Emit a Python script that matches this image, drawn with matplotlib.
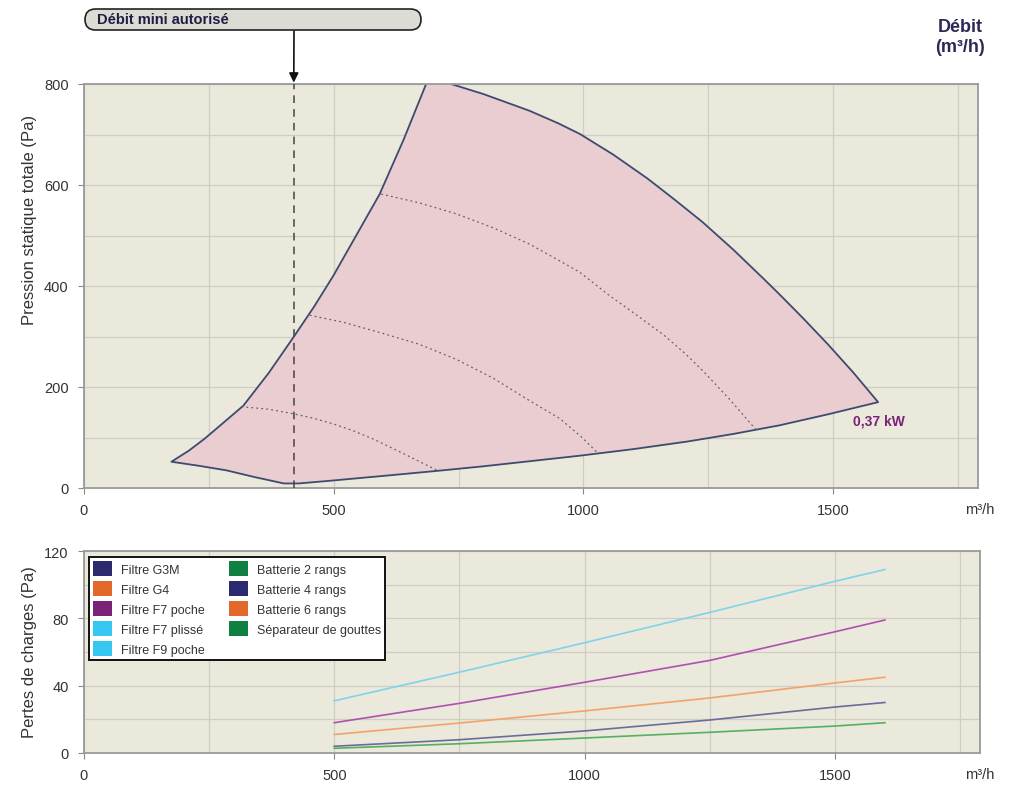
import matplotlib
matplotlib.use("Agg")
import matplotlib.pyplot as plt
from matplotlib.patches import FancyBboxPatch, Patch

plt.rcParams['font.family'] = ['Liberation Sans', 'DejaVu Sans']

# --- zone de fonctionnement (debit m3/h, pression Pa) ---
# bord gauche, bord haut/droit, puis bord bas
env_q = [175, 210, 242, 280, 319, 370, 419, 460, 499, 545, 592, 640, 685, 700, 730,
         735, 800, 892, 950, 993, 1060, 1128, 1180, 1238, 1300, 1359, 1392, 1440, 1490, 1540, 1590,
         1490, 1392, 1300, 1208, 1100, 993, 892, 800, 708, 600, 500, 430, 400, 340, 285, 230]
env_p = [52, 74, 98, 130, 163, 228, 298, 358, 420, 500, 582, 690, 800, 840, 840,
         800, 780, 747, 722, 701, 660, 613, 573, 527, 472, 416, 384, 336, 284, 229, 170,
         146, 124, 107, 92, 77, 64, 53, 43, 34, 24, 15, 9, 9, 22, 35, 44]

# courbes iso-puissance (pointillés)
iso1_q = [315, 370, 419, 460, 499, 540, 579, 640, 709]
iso1_p = [161, 156, 147, 138, 127, 113, 97, 68, 34]
iso2_q = [452, 520, 592, 670, 745, 820, 892, 952, 995, 1030]
iso2_p = [342, 328, 308, 285, 255, 217, 173, 138, 102, 68]
iso3_q = [595, 670, 745, 820, 892, 952, 993, 1052, 1110, 1162, 1205, 1242, 1295, 1345]
iso3_p = [582, 565, 543, 515, 483, 450, 427, 381, 340, 302, 265, 229, 173, 116]

debit_mini = 420
puissance = "0,37 kW"

# --- pertes de charges des accessoires ---
pdc_q = [500, 750, 1000, 1250, 1500, 1600]
pdc_f9 = [31, 48, 65.5, 83.5, 102, 109]
pdc_f7 = [18, 29.5, 42, 55, 72, 79]
pdc_g4 = [11, 17.8, 25, 32.7, 41.6, 45]
pdc_g3 = [4, 7.9, 13.1, 19.6, 27.3, 30]
pdc_bat = [2.8, 5.5, 8.9, 12.3, 16, 18]

legend_labels = ['Filtre G3M', 'Filtre G4', 'Filtre F7 poche', 'Filtre F7 plissé', 'Filtre F9 poche',
                 'Batterie 2 rangs', 'Batterie 4 rangs', 'Batterie 6 rangs', 'Séparateur de gouttes']
legend_colors = ['#2b2a6e', '#e2692a', '#7a2277', '#35c6f2', '#35c6f2',
                 '#0f7f42', '#2b2a6e', '#e2692a', '#0f7f42']

bg = '#ebe8dc'
grid_c = '#cfcdc4'
txt_c = '#333333'
edge_c = '#3d4b6e'

fig = plt.figure(figsize=(10.11, 8.12), dpi=100)
W, H = 1011, 812


def px(x, y):
    return x / W, 1 - y / H


def style_axes(ax, ymax, ymajor, ygrid):
    ax.set_facecolor(bg)
    ax.set_xlim(0, 1790)
    ax.set_ylim(0, ymax)
    ax.set_xticks([0, 500, 1000, 1500])
    ax.set_xticks([250, 750, 1250, 1750], minor=True)
    ax.set_yticks(ymajor)
    ax.set_yticks(ygrid, minor=True)
    ax.grid(True, which='both', color=grid_c, linewidth=0.9)
    ax.set_axisbelow(True)
    for s in ax.spines.values():
        s.set_color('#9a9a9a')
        s.set_linewidth(1.3)
    ax.tick_params(which='major', length=4, color='#888888', labelsize=10.5,
                   labelcolor=txt_c, pad=7)
    ax.tick_params(which='minor', length=0)


# ---------------- courbe ventilateur ----------------
ax1 = fig.add_axes([84 / W, 1 - 489 / H, 894 / W, 404 / H])
style_axes(ax1, 800, [0, 200, 400, 600, 800], list(range(100, 800, 100)))

ax1.fill(env_q, env_p, facecolor='#e9cdd0', edgecolor=edge_c, linewidth=1.3,
         joinstyle='round', zorder=2)
for q, p in [(iso1_q, iso1_p), (iso2_q, iso2_p), (iso3_q, iso3_p)]:
    ax1.plot(q, p, linestyle=(0, (1.5, 2.5)), color='#5a6478', linewidth=0.9, zorder=3)

ax1.plot([debit_mini, debit_mini], [0, 800], linestyle=(0, (5, 4)), color='#444444',
         linewidth=1.1, zorder=4, clip_on=False)
ax1.text(1592, 134, puissance, color='#7a2277', fontsize=10, fontweight='bold',
         ha='center', va='center', zorder=5)

# bulle "Débit mini autorisé"
box = FancyBboxPatch(px(85, 31), (421 - 85) / W, 21 / H,
                     boxstyle="round,pad=0,rounding_size=0.0104",
                     transform=fig.transFigure, facecolor='#dcdcd4', edgecolor='#222222',
                     linewidth=1.2, mutation_aspect=W / H)
fig.patches.append(box)
fig.text(*px(97, 20), 'Débit mini autorisé', fontsize=10.5, fontweight='bold',
         color='#1e1e45', ha='left', va='center')
ax1.annotate('', xy=(debit_mini, 800), xycoords='data',
             xytext=px(294, 32), textcoords='figure fraction',
             arrowprops=dict(arrowstyle='-|>', color='#111111', lw=1.2, mutation_scale=14,
                             shrinkA=0, shrinkB=1))

fig.text(*px(960, 27), 'Débit', fontsize=13, fontweight='bold', color='#2a2a55',
         ha='center', va='center')
fig.text(*px(960, 48), '(m³/h)', fontsize=13, fontweight='bold', color='#2a2a55',
         ha='center', va='center')
fig.text(*px(980, 510), 'm³/h', fontsize=10.5, color=txt_c, ha='center', va='center')
fig.text(*px(30, 220), 'Pression statique totale (Pa)', fontsize=12, color=txt_c,
         rotation=90, ha='center', va='center')

# ---------------- pertes de charges ----------------
ax2 = fig.add_axes([84 / W, 1 - 754 / H, 896 / W, 202 / H])
style_axes(ax2, 120, [0, 40, 80, 120], [20, 60, 100])

ax2.plot(pdc_q, pdc_f9, color='#7fd3ea', linewidth=1.2)
ax2.plot(pdc_q, pdc_f7, color='#b050b0', linewidth=1.2)
ax2.plot(pdc_q, pdc_g4, color='#f2a468', linewidth=1.2)
ax2.plot(pdc_q, pdc_g3, color='#6a6c9c', linewidth=1.2)
ax2.plot(pdc_q, pdc_bat, color='#55b060', linewidth=1.2)

handles = [Patch(facecolor=c, edgecolor='none') for c in legend_colors]
leg = ax2.legend(handles, legend_labels, ncol=2, loc='upper left',
                 bbox_to_anchor=(-0.001, 1.0), fontsize=9, frameon=True, fancybox=False,
                 framealpha=1, edgecolor='#111111', handlelength=1.5, handleheight=1.5,
                 labelspacing=0.38, columnspacing=2.0, handletextpad=0.7, borderpad=0.3)
leg.get_frame().set_linewidth(1.4)
for t in leg.get_texts():
    t.set_color(txt_c)

fig.text(*px(980, 775), 'm³/h', fontsize=10.5, color=txt_c, ha='center', va='center')
fig.text(*px(30, 652), 'Pertes de charges (Pa)', fontsize=12, color=txt_c,
         rotation=90, ha='center', va='center')

fig.savefig('out.png', dpi=100, facecolor='white')
